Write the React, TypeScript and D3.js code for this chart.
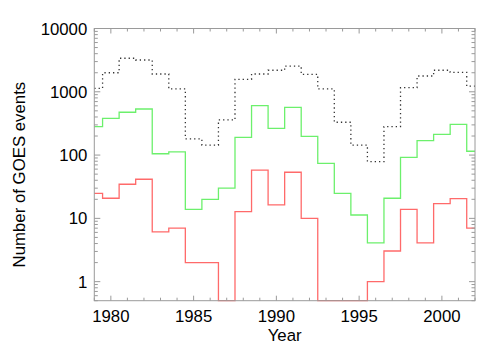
import React from "react";
import * as d3 from "d3";

const years = [1979,1980,1981,1982,1983,1984,1985,1986,1987,1988,1989,1990,1991,1992,1993,1994,1995,1996,1997,1998,1999,2000,2001,2002];
const allEvents = [1130,2000,3390,3180,1910,1110,180,144,359,1575,1910,2190,2550,1890,1110,330,144,79,281,1160,1775,2190,2030,1230];
const mClass = [281,381,475,535,105,112,13.9,20,30,191,603,265,569,198,74,24.9,11.3,4.1,20.8,92,169,213,306,115];
const xClass = [24.9,20.8,34.6,41.5,6.1,7.0,2.0,2.0,0,12.8,58,16.3,53.5,10,0,0,0,1.0,3.05,13.9,4.1,17.1,20.5,7.0];
const xTickLabels = [1980,1985,1990,1995,2000];
const yTickLabels = [1,10,100,1000,10000];

const W = 504, H = 360;
const left = 94.3, right = 475, top = 28.5, bottom = 300.7;
const AXIS = "#9a9a9a";
const FONT = "'Liberation Sans', Arial, Helvetica, sans-serif";

export default function App() {
  const x = d3.scaleLinear().domain([1979, 2002]).range([left, right]);
  const y = d3.scaleLog().domain([0.5, 10000]).range([bottom, top]);
  const yv = (v: number) => y(Math.max(v, 0.5));

  const stepPath = (vals: number[]) => {
    const pts: [number, number][] = [];
    years.forEach((yr, i) => {
      const x0 = Math.max(yr - 0.5, 1979);
      const x1 = Math.min(yr + 0.5, 2002);
      pts.push([x(x0), yv(vals[i])]);
      pts.push([x(x1), yv(vals[i])]);
    });
    return d3.line()(pts) as string;
  };

  const xMinor = d3.range(1979, 2003);
  const yMinor: number[] = [];
  for (let e = -1; e <= 3; e++) {
    for (let m = 1; m <= 9; m++) {
      const v = m * Math.pow(10, e);
      if (v >= 0.5 && v <= 10000) yMinor.push(v);
    }
  }

  return (
    <svg width={W} height={H} style={{ position: "absolute", left: 0, top: 0, background: "#fff" }}>
      <rect x={0} y={0} width={W} height={H} fill="#fff" />
      <g fill="none" strokeWidth={1.3}>
        <path d={stepPath(allEvents)} stroke="#333" strokeDasharray="1.3,3" />
        <path d={stepPath(mClass)} stroke="#6cf06c" />
        <path d={stepPath(xClass)} stroke="#ff6a6a" />
      </g>
      <g stroke={AXIS} strokeWidth={1} fill="none">
        <rect x={left} y={top} width={right - left} height={bottom - top} />
        {xMinor.map((v) => {
          const major = v % 5 === 0;
          const len = major ? 5 : 3;
          return (
            <g key={"xt" + v}>
              <line x1={x(v)} x2={x(v)} y1={bottom} y2={bottom - len} />
              <line x1={x(v)} x2={x(v)} y1={top} y2={top + len} />
            </g>
          );
        })}
        {yMinor.map((v, i) => {
          const major = yTickLabels.includes(v);
          const len = major ? 6 : 3.5;
          return (
            <g key={"yt" + i}>
              <line x1={left} x2={left + len} y1={y(v)} y2={y(v)} />
              <line x1={right} x2={right - len} y1={y(v)} y2={y(v)} />
            </g>
          );
        })}
      </g>
      <g fontFamily={FONT} fontSize={16.8} fill="#000">
        {xTickLabels.map((v) => (
          <text key={"xl" + v} x={x(v)} y={322} textAnchor="middle">{v}</text>
        ))}
        {yTickLabels.map((v) => (
          <text key={"yl" + v} x={left - 7} y={y(v)} dy="0.36em" textAnchor="end">{v}</text>
        ))}
        <text x={(left + right) / 2} y={341} textAnchor="middle">Year</text>
        <text transform={`translate(25,${(top + bottom) / 2 + 10}) rotate(-90)`} textAnchor="middle">Number of GOES events</text>
      </g>
    </svg>
  );
}
